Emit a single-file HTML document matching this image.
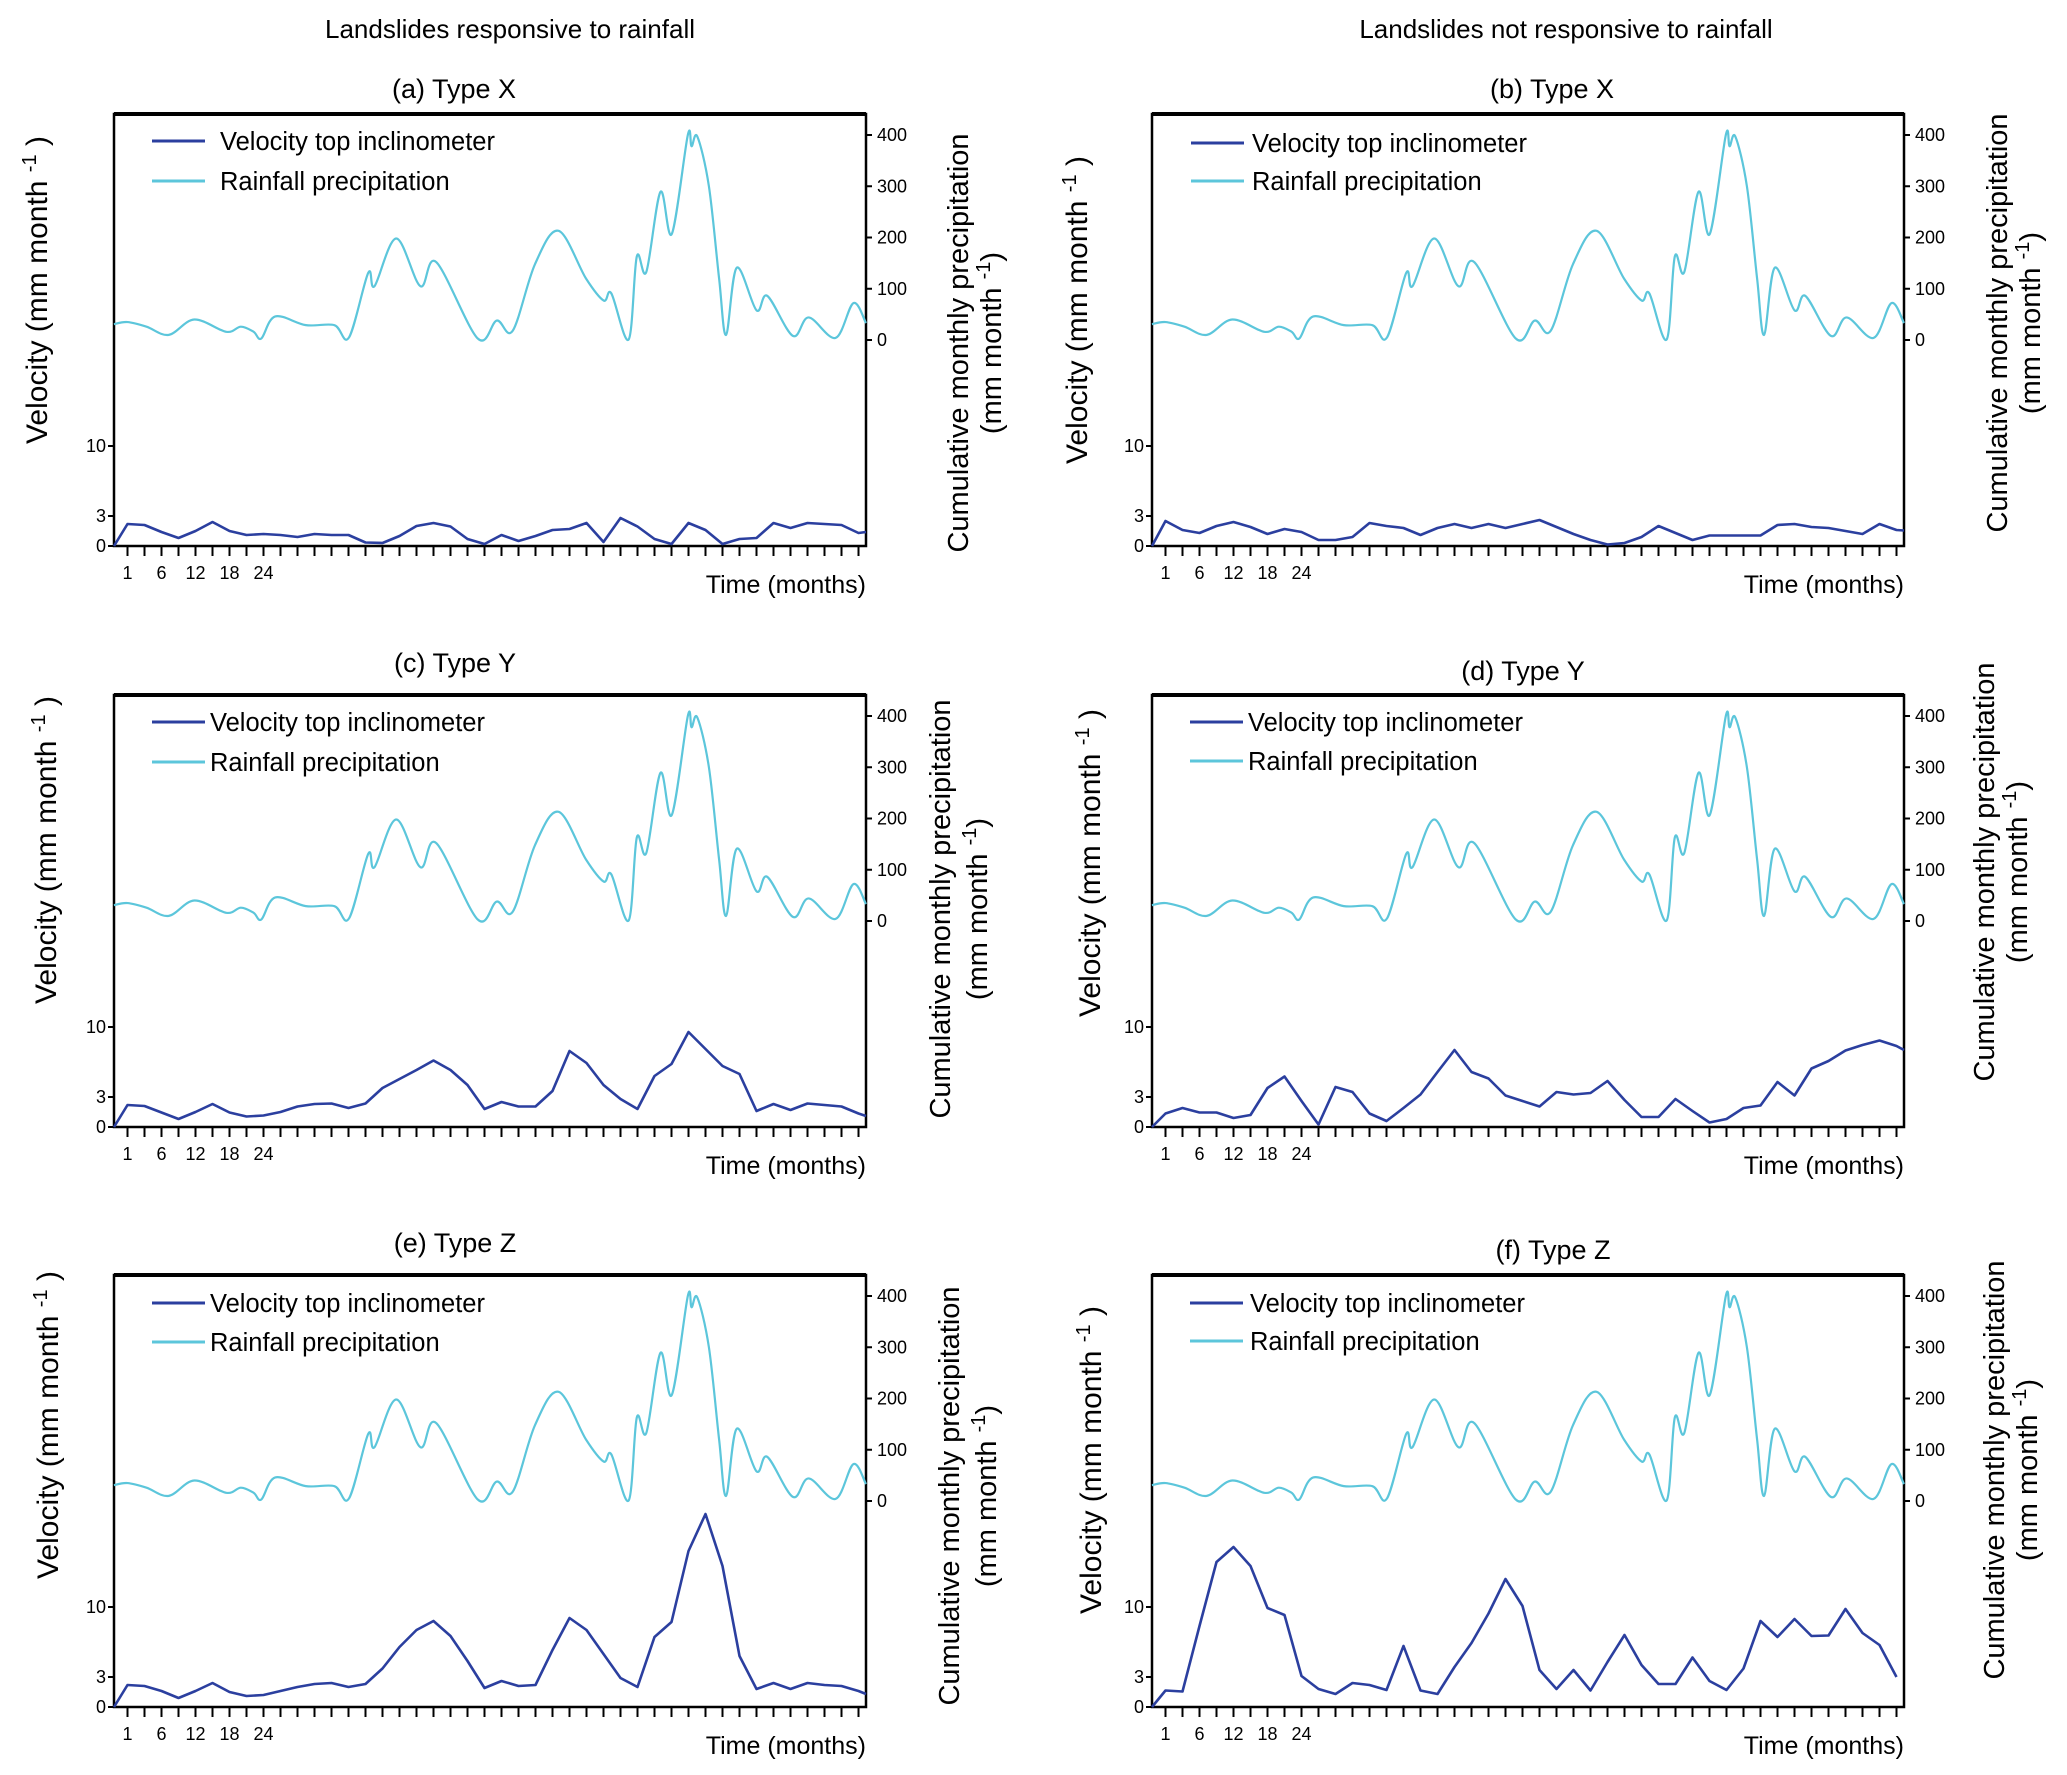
<!DOCTYPE html>
<html>
<head>
<meta charset="utf-8">
<style>
html,body{margin:0;padding:0;background:#fff;}
svg{display:block;}
text{font-family:"Liberation Sans",sans-serif;fill:#000;}
</style>
</head>
<body>
<svg id="chart" width="2067" height="1775" viewBox="0 0 2067 1775" xmlns="http://www.w3.org/2000/svg">
<text x="510" y="38" font-size="26" text-anchor="middle">Landslides responsive to rainfall</text>
<text x="1566" y="38" font-size="26" text-anchor="middle">Landslides not responsive to rainfall</text>
</svg>
<script>
// Shared rainfall series (x in tick-index units, value in mm)
const rainT = [0.2,1,2.12,3.43,4.93,6.81,7.67,8.42,8.87,9.69,11.49,13.17,14.03,15.16,15.53,16.81,18.23,19.16,21.6,22.72,23.66,24.97,26.36,27.97,29.01,29.46,30.48,30.96,31.52,32.35,33.02,33.96,34.18,34.52,35.2,35.8,36.21,36.84,38.0,38.64,40.14,41.07,42.65,43.7,44.44];
const rainV = [31,35,26,10,40,16,26,16,3,46,29,29,5,131,105,198,105,152,3,38,18,148,213,120,77,91,1,163,133,289,207,400,378,397,300,120,10,141,58,86,8,44,4,72,33];
// Velocity series per panel (first point at left edge, then ticks 1..44, then right edge)
const velA = [0,2.2,2.1,1.4,0.8,1.5,2.4,1.5,1.1,1.2,1.1,0.9,1.2,1.1,1.1,0.35,0.3,1.0,2.0,2.3,1.95,0.7,0.2,1.1,0.5,1.0,1.6,1.7,2.3,0.4,2.8,1.95,0.7,0.2,2.3,1.6,0.2,0.7,0.8,2.3,1.8,2.3,2.2,2.1,1.3,1.4];
const velB = [0,2.5,1.6,1.3,2.0,2.4,1.9,1.2,1.7,1.4,0.6,0.6,0.9,2.3,2.0,1.8,1.1,1.8,2.2,1.8,2.2,1.8,2.2,2.6,1.9,1.2,0.6,0.15,0.3,0.9,2.0,1.3,0.6,1.05,1.05,1.05,1.05,2.1,2.2,1.9,1.8,1.5,1.2,2.2,1.6,1.55];
const velC = [0,2.2,2.1,1.45,0.8,1.5,2.3,1.45,1.05,1.15,1.5,2.05,2.3,2.35,1.9,2.35,3.9,4.8,5.7,6.65,5.7,4.2,1.8,2.5,2.05,2.05,3.6,7.6,6.4,4.2,2.8,1.8,5.1,6.3,9.5,7.8,6.1,5.3,1.6,2.3,1.7,2.35,2.2,2.05,1.35,1.1];
const velD = [0,1.35,1.9,1.45,1.45,0.9,1.2,3.9,5.05,2.6,0.25,4.0,3.5,1.35,0.6,1.9,3.25,5.5,7.7,5.5,4.85,3.15,2.6,2.05,3.5,3.25,3.4,4.6,2.7,1.0,1.0,2.8,1.6,0.45,0.8,1.9,2.15,4.5,3.15,5.85,6.6,7.65,8.2,8.65,8.1,7.7];
const velE = [0,2.2,2.1,1.6,0.9,1.6,2.4,1.5,1.1,1.2,1.6,2.0,2.3,2.4,2.0,2.3,3.85,6.0,7.7,8.6,7.1,4.6,1.9,2.6,2.1,2.2,5.7,8.9,7.7,5.3,2.9,2.0,7.0,8.5,15.6,19.3,14.1,5.1,1.8,2.4,1.8,2.4,2.2,2.1,1.6,1.3];
const velF = [0,1.65,1.55,8.1,14.5,16.0,14.1,9.9,9.2,3.1,1.8,1.3,2.4,2.2,1.7,6.1,1.65,1.3,4.0,6.4,9.35,12.8,10.1,3.7,1.8,3.7,1.65,4.5,7.2,4.2,2.3,2.3,4.95,2.6,1.7,3.85,8.6,7.0,8.8,7.1,7.15,9.8,7.4,6.2,3.0];
const velTicks = [0,3,10];
const rainTicks = [0,100,200,300,400];
const xTickLabels = ["1","6","12","18","24"];
const xTickLabelPos = [1,3,5,7,9];

const NS = "http://www.w3.org/2000/svg";
const svg = document.getElementById("chart");
function mk(tag, attrs, parent){
  const e = document.createElementNS(NS, tag);
  for (const k in attrs) e.setAttribute(k, attrs[k]);
  (parent||svg).appendChild(e);
  return e;
}
function catmull(pts){
  let d = "M"+pts[0][0].toFixed(2)+","+pts[0][1].toFixed(2);
  for (let i=0;i<pts.length-1;i++){
    const p0=pts[Math.max(0,i-1)], p1=pts[i], p2=pts[i+1], p3=pts[Math.min(pts.length-1,i+2)];
    const c1x=p1[0]+(p2[0]-p0[0])/6, c1y=p1[1]+(p2[1]-p0[1])/6;
    const c2x=p2[0]-(p3[0]-p1[0])/6, c2y=p2[1]-(p3[1]-p1[1])/6;
    d+=" C"+c1x.toFixed(2)+","+c1y.toFixed(2)+" "+c2x.toFixed(2)+","+c2y.toFixed(2)+" "+p2[0].toFixed(2)+","+p2[1].toFixed(2);
  }
  return d;
}

const panels = [
 {id:"a", title:"(a) Type X", L:114, T:114, vel:velA, tx:454, ty:98, leg:[152,220,141,181], vt:[37,290], rt:[958,991,343]},
 {id:"b", title:"(b) Type X", L:1152, T:114, vel:velB, tx:1552, ty:98, leg:[1191,1252,143,181], vt:[1077,310], rt:[1997,2030,323]},
 {id:"c", title:"(c) Type Y", L:114, T:695, vel:velC, tx:455, ty:672, leg:[152,210,722,762], vt:[46,850], rt:[940,977,909]},
 {id:"d", title:"(d) Type Y", L:1152, T:695, vel:velD, tx:1523, ty:680, leg:[1190,1248,722,761], vt:[1090,863], rt:[1984,2017,872]},
 {id:"e", title:"(e) Type Z", L:114, T:1275, vel:velE, tx:455, ty:1252, leg:[152,210,1303,1342], vt:[48,1425], rt:[949,986,1496]},
 {id:"f", title:"(f) Type Z", L:1152, T:1275, vel:velF, tx:1553, ty:1259, leg:[1190,1250,1303,1341], vt:[1091,1460], rt:[1994,2027,1470]}
];

panels.forEach(p=>{
  const W=752, H=432, R=p.L+W, B=p.T+H;
  const g = mk("g",{});
  
  
  const xs = k => p.L+13.5+(k-1)*17;
  const yv = v => B - v*10;
  const yr = v => p.T+226 - v*(205/400);

  const t = mk("text",{x:p.tx,y:p.ty,"font-size":27,"text-anchor":"middle"},g);
  t.textContent = p.title;
  
  

  const box = mk("rect",{x:p.L,y:p.T,width:W,height:H,fill:"none",stroke:"#000","stroke-width":2.5},g);
  
  
  mk("line",{x1:p.L,y1:p.T,x2:R,y2:p.T,stroke:"#000","stroke-width":4},g);

  for (let k=1;k<=44;k++){
    const tk = mk("line",{x1:xs(k),y1:B,x2:xs(k),y2:B+10,stroke:"#000","stroke-width":2},g);
    
    
  }
  xTickLabels.forEach((lab,i)=>{
    const tl = mk("text",{x:xs(xTickLabelPos[i]),y:B+33,"font-size":18,"text-anchor":"middle"},g);
    tl.textContent = lab;
    
    
  });
  const xt = mk("text",{x:R,y:B+47,"font-size":25,"text-anchor":"end"},g);
  xt.textContent = "Time (months)";
  
  

  velTicks.forEach(v=>{
    mk("line",{x1:p.L-6,y1:yv(v),x2:p.L,y2:yv(v),stroke:"#000","stroke-width":2},g);
    const tl = mk("text",{x:p.L-8,y:yv(v)+6,"font-size":18,"text-anchor":"end"},g);
    tl.textContent = v;
    
    
  });
  rainTicks.forEach(v=>{
    mk("line",{x1:R,y1:yr(v),x2:R+6,y2:yr(v),stroke:"#000","stroke-width":2},g);
    const tl = mk("text",{x:R+11,y:yr(v)+6,"font-size":18},g);
    tl.textContent = v;
    
    
  });

  const vt = mk("text",{x:0,y:0,"font-size":30,"text-anchor":"middle",transform:"translate("+p.vt[0]+","+p.vt[1]+") rotate(-90) translate(0,10)"},g);
  vt.innerHTML = 'Velocity (mm month <tspan dy="-11" font-size="20">-1</tspan><tspan dy="11"> )</tspan>';
  
  
  const rt1 = mk("text",{x:0,y:0,"font-size":29,"text-anchor":"middle",transform:"translate("+p.rt[0]+","+p.rt[2]+") rotate(-90) translate(0,10)"},g);
  rt1.textContent = "Cumulative monthly precipitation";
  
  
  const rt2 = mk("text",{x:0,y:0,"font-size":29,"text-anchor":"middle",transform:"translate("+p.rt[1]+","+p.rt[2]+") rotate(-90) translate(0,10)"},g);
  rt2.innerHTML = '(mm month <tspan dy="-11" font-size="20">-1</tspan><tspan dy="11">)</tspan>';
  
  

  const rpts = rainT.map((k,i)=>[xs(k), yr(rainV[i])]);
  const rl = mk("path",{d:catmull(rpts),fill:"none",stroke:"#5cc6db","stroke-width":2.2,"stroke-linejoin":"round"},g);
  
  

  const vpts = p.vel.map((v,i)=>{
    let k;
    if (i===0) k=0.206; else if (i<=44) k=i; else k=44.44;
    return xs(k).toFixed(2)+","+yv(v).toFixed(2);
  });
  const vl = mk("polyline",{points:vpts.join(" "),fill:"none",stroke:"#2b3f9f","stroke-width":2.6,"stroke-linejoin":"round"},g);
  
  

  const l1 = mk("line",{x1:p.leg[0],y1:p.leg[2],x2:p.leg[0]+53,y2:p.leg[2],stroke:"#2b3f9f","stroke-width":3},g);
  
  
  const lt1 = mk("text",{x:p.leg[1],y:p.leg[2]+9,"font-size":25.5},g);
  lt1.textContent = "Velocity top inclinometer";
  
  
  const l2 = mk("line",{x1:p.leg[0],y1:p.leg[3],x2:p.leg[0]+53,y2:p.leg[3],stroke:"#5cc6db","stroke-width":3},g);
  
  
  const lt2 = mk("text",{x:p.leg[1],y:p.leg[3]+9,"font-size":25.5},g);
  lt2.textContent = "Rainfall precipitation";
  
  
});
</script>
</body>
</html>
